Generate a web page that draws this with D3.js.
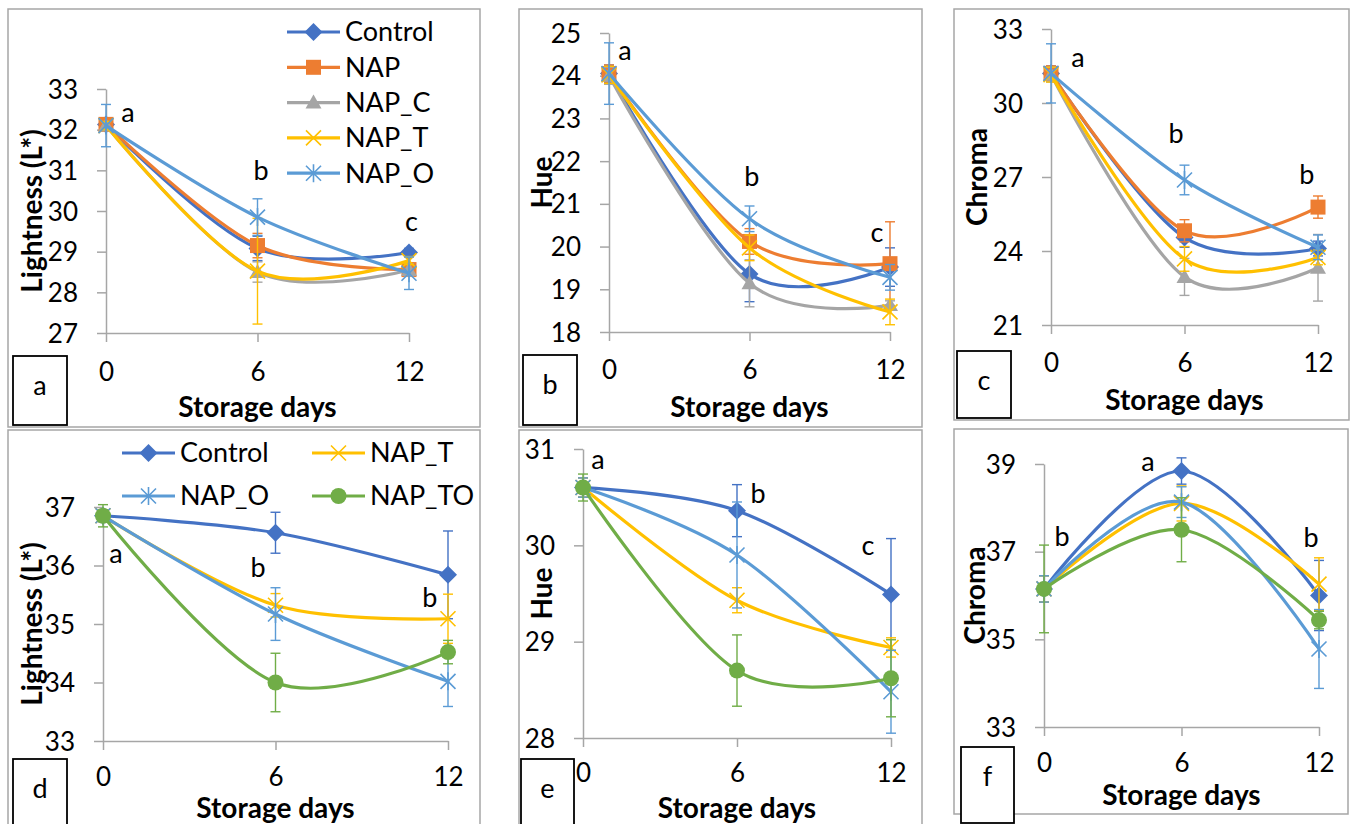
<!DOCTYPE html>
<html>
<head>
<meta charset="utf-8">
<script src="https://cdn.jsdelivr.net/npm/d3@7"></script>
<style>
  body { margin: 0; background: #fff; }
  svg { display: block; }
  text { font-family: Lato, "Open Sans", sans-serif; fill: #000; }
</style>
</head>
<body>
<div id="chart"></div>
<script>
// storage days on the x axis
const days = [0, 6, 12];

const seriesTop = ["Control", "NAP", "NAP_C", "NAP_T", "NAP_O"];
const seriesBottom = ["Control", "NAP_T", "NAP_O", "NAP_TO"];

// top row (one row per series, values at day 0, 6, 12)
const lightnessTop = [
  [32.13, 29.08, 28.98],
  [32.13, 29.15, 28.56],
  [32.10, 28.50, 28.55],
  [32.10, 28.52, 28.78],
  [32.10, 29.85, 28.47]
];
const lightnessTopErr = [
  [0.1, 0.3, 0.1],
  [0.1, 0.3, 0.15],
  [0.1, 0.25, 0.15],
  [0.1, 1.3, 0.1],
  [0.52, 0.45, 0.4]
];
const hueTop = [
  [24.05, 19.36, 19.52],
  [24.05, 20.12, 19.60],
  [24.00, 19.14, 18.63],
  [24.02, 19.97, 18.47],
  [24.05, 20.65, 19.28]
];
const hueTopErr = [
  [0.2, 0.65, 0.45],
  [0.2, 0.3, 0.98],
  [0.2, 0.55, 0.1],
  [0.2, 0.3, 0.3],
  [0.72, 0.3, 0.3]
];
const chromaTop = [
  [31.20, 24.55, 24.10],
  [31.20, 24.82, 25.78],
  [31.15, 22.95, 23.32],
  [31.15, 23.68, 23.74],
  [31.20, 26.88, 24.15]
];
const chromaTopErr = [
  [0.3, 0.4, 0.3],
  [0.3, 0.45, 0.45],
  [0.3, 0.75, 1.35],
  [0.3, 0.5, 0.3],
  [1.2, 0.6, 0.5]
];

// bottom row
const lightnessBottom = [
  [36.85, 36.56, 35.84],
  [36.85, 35.32, 35.09],
  [36.85, 35.17, 34.02],
  [36.85, 34.00, 34.52]
];
const lightnessBottomErr = [
  [0.1, 0.35, 0.75],
  [0.1, 0.2, 0.42],
  [0.1, 0.45, 0.43],
  [0.19, 0.5, 0.2]
];
const hueBottom = [
  [30.60, 30.36, 29.49],
  [30.60, 29.43, 28.94],
  [30.60, 29.90, 28.48],
  [30.60, 28.70, 28.62]
];
const hueBottomErr = [
  [0.1, 0.27, 0.58],
  [0.1, 0.13, 0.1],
  [0.1, 0.55, 0.43],
  [0.14, 0.37, 0.4]
];
const chromaBottom = [
  [36.15, 38.84, 36.00],
  [36.15, 38.10, 36.26],
  [36.15, 38.13, 34.78],
  [36.15, 37.50, 35.44]
];
const chromaBottomErr = [
  [0.3, 0.3, 0.8],
  [0.3, 0.4, 0.6],
  [0.3, 0.35, 0.9],
  [1.0, 0.73, 0.2]
];

// y tick labels
const ticksA = [27, 28, 29, 30, 31, 32, 33];
const ticksB = [18, 19, 20, 21, 22, 23, 24, 25];
const ticksC = [21, 24, 27, 30, 33];
const ticksD = [33, 34, 35, 36, 37];
const ticksE = [28, 29, 30, 31];
const ticksF = [33, 35, 37, 39];

// significance letters: [text, day, value]
const lettersA = [["a", 0.87, 32.43], ["b", 6.14, 31.0], ["c", 12.1, 29.73]];
const lettersB = [["a", 0.68, 24.6], ["b", 6.1, 21.63], ["c", 11.44, 20.32]];
const lettersC = [["a", 1.21, 31.86], ["b", 5.62, 28.78], ["b", 11.5, 27.08]];
const lettersD = [["a", 0.45, 36.21], ["b", 5.39, 35.96], ["b", 11.37, 35.46]];
const lettersE = [["a", 0.58, 30.89], ["b", 6.82, 30.54], ["c", 11.1, 30.0]];
const lettersF = [["b", 0.79, 37.34], ["a", 4.54, 39.05], ["b", 11.65, 37.32]];

const colors = {
  Control: "#4472C4", NAP: "#ED7D31", NAP_C: "#A5A5A5",
  NAP_T: "#FFC000", NAP_O: "#5B9BD5", NAP_TO: "#70AD47"
};

const panels = [
  { tag: "a", series: seriesTop, values: lightnessTop, errors: lightnessTopErr, ticks: ticksA, letters: lettersA,
    title: "Lightness (L*)", frame: [8, 9, 480, 427], plot: [106, 409, 89, 333], box: [13, 356, 67, 425],
    titleDx: -74, labDy: 39, xTitleDy: 74,
    legend: { x: 287, y: 32, dy: 35.3, cols: 1 } },
  { tag: "b", series: seriesTop, values: hueTop, errors: hueTopErr, ticks: ticksB, letters: lettersB,
    title: "Hue", frame: [519, 9, 922, 427], plot: [609, 890, 33, 332], box: [523, 355, 577, 425],
    titleDx: -67, labDy: 38, xTitleDy: 75 },
  { tag: "c", series: seriesTop, values: chromaTop, errors: chromaTopErr, ticks: ticksC, letters: lettersC,
    title: "Chroma", frame: [954, 9, 1349, 420], plot: [1051, 1318, 29, 325], box: [957, 351, 1011, 418],
    titleDx: -74, labDy: 38, xTitleDy: 75 },
  { tag: "d", series: seriesBottom, values: lightnessBottom, errors: lightnessBottomErr, ticks: ticksD, letters: lettersD,
    title: "Lightness (L*)", frame: [8, 430, 480, 840], plot: [103, 448, 507, 741], box: [13, 759, 67, 830],
    titleDx: -71, labDy: 36, xTitleDy: 67,
    legend: { x: 122, y: 453, dy: 43, cols: 2, colW: 190 } },
  { tag: "e", series: seriesBottom, values: hueBottom, errors: hueBottomErr, ticks: ticksE, letters: lettersE,
    title: "Hue", frame: [519, 430, 922, 840], plot: [583, 891, 449, 738], box: [521, 759, 574, 830],
    titleDx: -41, labDy: 35, xTitleDy: 70 },
  { tag: "f", series: seriesBottom, values: chromaBottom, errors: chromaBottomErr, ticks: ticksF, letters: lettersF,
    title: "Chroma", frame: [954, 429, 1348, 814], plot: [1044, 1319, 464, 727], box: [961, 747, 1014, 823],
    titleDx: -69, labDy: 36, xTitleDy: 68 }
];

const W = 1351, H = 824;
const svg = d3.select("#chart").append("svg")
  .attr("width", W)
  .attr("height", H);

const axisColor = "#A6A6A6";
const fontTick = "26px", fontTitle = "28px";

function marker(sel, name, color) {
  if (name === "Control") {
    sel.append("path").attr("d", "M0,-9L9,0L0,9L-9,0Z").attr("fill", color);
  } else if (name === "NAP") {
    sel.append("rect").attr("x", -7.5).attr("y", -7.5).attr("width", 15).attr("height", 15).attr("fill", color);
  } else if (name === "NAP_C") {
    sel.append("path").attr("d", "M0,-8L8,6L-8,6Z").attr("fill", color);
  } else if (name === "NAP_T") {
    sel.append("path").attr("d", "M-7.5,-7.5L7.5,7.5M-7.5,7.5L7.5,-7.5")
      .attr("stroke", color).attr("stroke-width", 1.6).attr("fill", "none");
  } else if (name === "NAP_O") {
    sel.append("path").attr("d", "M-7.5,-7.5L7.5,7.5M-7.5,7.5L7.5,-7.5M0,-9L0,9")
      .attr("stroke", color).attr("stroke-width", 1.6).attr("fill", "none");
  } else {
    sel.append("circle").attr("r", 8).attr("fill", color);
  }
}

panels.forEach(p => {
  const [fx0, fy0, fx1, fy1] = p.frame;
  const [px0, px1, py0, py1] = p.plot;

  svg.append("rect")
    .attr("x", fx0).attr("y", fy0)
    .attr("width", fx1 - fx0).attr("height", fy1 - fy0)
    .attr("fill", "#fff").attr("stroke", axisColor).attr("stroke-width", 1.5);

  const x = d3.scaleLinear().domain([0, 12]).range([px0, px1]);
  const y = d3.scaleLinear().domain(d3.extent(p.ticks)).range([py1, py0]);

  const g = svg.append("g");

  // axes
  const yAxis = g.append("g")
    .attr("transform", `translate(${px0},0)`)
    .call(d3.axisLeft(y).tickValues(p.ticks).tickFormat(d3.format("d")).tickSize(9).tickSizeOuter(0));
  yAxis.selectAll("text")
    .attr("x", -28).attr("dy", "0.35em")
    .style("font-size", fontTick);

  const xAxis = g.append("g")
    .attr("transform", `translate(0,${py1})`)
    .call(d3.axisBottom(x).tickValues(days).tickFormat(d3.format("d")).tickSize(9).tickSizeOuter(0));
  xAxis.selectAll("text")
    .attr("y", p.labDy).attr("dy", "0.35em")
    .style("font-size", fontTick);

  g.selectAll(".domain, .tick line")
    .attr("stroke", axisColor).attr("stroke-width", 1.5);
  g.selectAll(".tick text").attr("fill", "#000").style("font-family", "Lato, 'Open Sans', sans-serif");

  // axis titles
  g.append("text")
    .attr("x", (px0 + px1) / 2).attr("y", py1 + p.xTitleDy)
    .attr("text-anchor", "middle").attr("dy", "0.35em")
    .style("font-size", fontTitle).style("font-weight", "bold")
    .text("Storage days");

  g.append("text")
    .attr("transform", `translate(${px0 + p.titleDx},${(py0 + py1) / 2}) rotate(-90)`)
    .attr("text-anchor", "middle").attr("dy", "0.35em")
    .style("font-size", fontTitle).style("font-weight", "bold")
    .text(p.title);

  // series
  const line = d3.line()
    .x(d => x(d[0]))
    .y(d => y(d[1]))
    .curve(d3.curveCardinal.tension(0));

  p.series.forEach((name, i) => {
    const color = colors[name];
    const pts = days.map((d, j) => [d, p.values[i][j], p.errors[i][j]]);
    const sg = g.append("g");

    pts.forEach(([d, v, e]) => {
      const cx = x(d);
      const eb = sg.append("g").attr("stroke", color).attr("stroke-width", 1.4);
      eb.append("line").attr("x1", cx).attr("x2", cx).attr("y1", y(v - e)).attr("y2", y(v + e));
      eb.append("line").attr("x1", cx - 5).attr("x2", cx + 5).attr("y1", y(v - e)).attr("y2", y(v - e));
      eb.append("line").attr("x1", cx - 5).attr("x2", cx + 5).attr("y1", y(v + e)).attr("y2", y(v + e));
    });

    sg.append("path")
      .datum(pts)
      .attr("fill", "none")
      .attr("stroke", color)
      .attr("stroke-width", 3.2)
      .attr("stroke-linecap", "round")
      .attr("d", line);

    pts.forEach(([d, v]) => {
      sg.append("g").attr("transform", `translate(${x(d)},${y(v)})`).call(marker, name, color);
    });
  });

  // significance letters
  p.letters.forEach(([t, d, v]) => {
    g.append("text")
      .attr("x", x(d)).attr("y", y(v))
      .attr("text-anchor", "middle").attr("dy", "0.35em")
      .style("font-size", "27px")
      .text(t);
  });

  // panel tag box
  const [bx0, by0, bx1, by1] = p.box;
  g.append("rect")
    .attr("x", bx0).attr("y", by0)
    .attr("width", bx1 - bx0).attr("height", by1 - by0)
    .attr("fill", "#fff").attr("stroke", "#000").attr("stroke-width", 1.8);
  g.append("text")
    .attr("x", (bx0 + bx1) / 2).attr("y", by0 + 30)
    .attr("text-anchor", "middle").attr("dy", "0.35em")
    .style("font-size", "27px")
    .text(p.tag);

  // legend
  if (p.legend) {
    const L = p.legend;
    p.series.forEach((name, i) => {
      const col = L.cols === 1 ? 0 : i % L.cols;
      const row = L.cols === 1 ? i : Math.floor(i / L.cols);
      const lx = L.x + col * (L.colW || 0);
      const ly = L.y + row * L.dy;
      const lg = g.append("g").attr("transform", `translate(${lx},${ly})`);
      lg.append("line").attr("x1", 0).attr("x2", 53).attr("y1", 0).attr("y2", 0)
        .attr("stroke", colors[name]).attr("stroke-width", 3.2);
      lg.append("g").attr("transform", "translate(26.5,0)").call(marker, name, colors[name]);
      lg.append("text").attr("x", 58).attr("dy", "0.35em")
        .style("font-size", "27px")
        .text(name);
    });
  }
});
</script>
</body>
</html>
